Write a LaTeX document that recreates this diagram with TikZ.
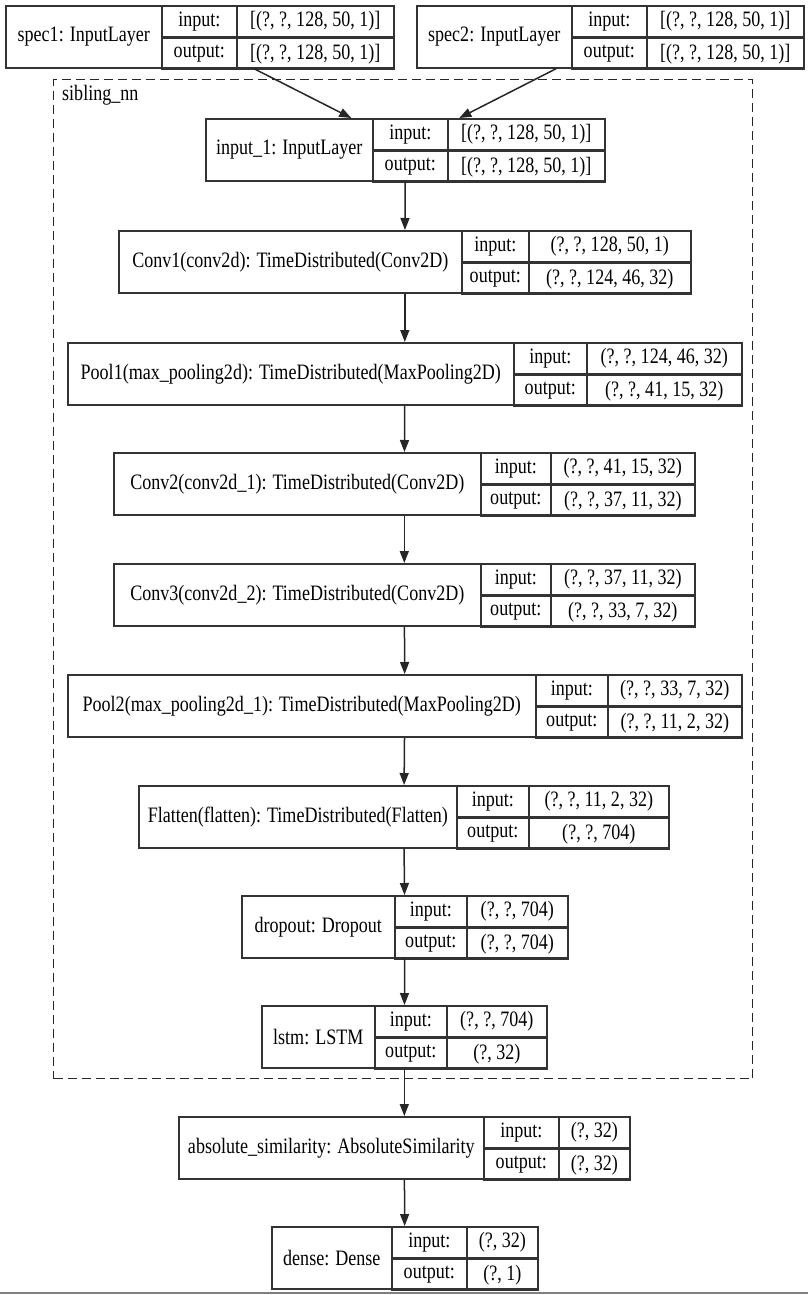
\documentclass[tikz,border=0pt]{standalone}
\usepackage{fontspec}
\setmainfont{Liberation Serif}
\newfontfamily\recfont[FakeStretch=0.82]{Liberation Serif}
\usetikzlibrary{arrows.meta, positioning}

% one Keras record: name, left x, top y, 1st divider, 2nd divider, right x, label, input, output
\newcommand{\layer}[9]{%
  \node[rec, minimum width={#6-#2}, anchor=north west] (#1) at (#2,#3) {};
  \node[cell, minimum width={#4-#2}, minimum height=62, anchor=north west] (#1-lbl) at (#2,#3) {#7};
  \node[cell, minimum width={#5-#4}, anchor=north west] (#1-ik) at (#4,#3) {input:};
  \node[cell, minimum width={#6-#5}, anchor=north west] (#1-iv) at (#5,#3) {#8};
  \node[cell, minimum width={#5-#4}, anchor=north west] (#1-ok) at (#1-ik.south west) {output:};
  \node[cell, minimum width={#6-#5}, anchor=north west] (#1-ov) at (#1-iv.south west) {#9};
}

\begin{document}
\begin{tikzpicture}[
  x=1pt, y=-1pt,
  rec/.style={rectangle, draw=black!80, line width=1.6pt, minimum height=62, inner sep=0pt},
  cell/.style={rectangle, draw=black!80, line width=1.6pt, minimum height=31, inner sep=0pt,
               font=\recfont\fontsize{22}{22}\selectfont, text=black},
  cluster/.style={rectangle, draw=black!85, line width=1.3pt, dash pattern=on 9pt off 5pt, inner sep=0pt},
  arr/.style={-{Triangle[length=12pt, width=9pt]}, line width=1.5pt, draw=black!85},
  every node/.style={font=\recfont\fontsize{22}{22}\selectfont}
]
\useasboundingbox (0,0) rectangle (808,1295);

% sibling_nn cluster
\node[cluster, minimum width=699, minimum height=999, anchor=north west] (sib) at (53,79) {};
\node[anchor=base west, inner sep=0pt] (sibtxt) at (62,101) {sibling\_nn};

\layer{spec1}{5}{5}{161}{236}{393}{spec1: InputLayer}{[(?, ?, 128, 50, 1)]}{[(?, ?, 128, 50, 1)]}
\layer{spec2}{416}{5}{571}{646}{803}{spec2: InputLayer}{[(?, ?, 128, 50, 1)]}{[(?, ?, 128, 50, 1)]}
\layer{input1}{205}{118}{372}{447}{604}{input\_1: InputLayer}{[(?, ?, 128, 50, 1)]}{[(?, ?, 128, 50, 1)]}
\layer{conv1}{118}{230}{461}{528}{690}{Conv1(conv2d): TimeDistributed(Conv2D)}{(?, ?, 128, 50, 1)}{(?, ?, 124, 46, 32)}
\layer{pool1}{67}{342}{513}{586}{741}{Pool1(max\_pooling2d): TimeDistributed(MaxPooling2D)}{(?, ?, 124, 46, 32)}{(?, ?, 41, 15, 32)}
\layer{conv2}{113}{452}{480}{550}{694}{Conv2(conv2d\_1): TimeDistributed(Conv2D)}{(?, ?, 41, 15, 32)}{(?, ?, 37, 11, 32)}
\layer{conv3}{113}{563}{480}{550}{694}{Conv3(conv2d\_2): TimeDistributed(Conv2D)}{(?, ?, 37, 11, 32)}{(?, ?, 33, 7, 32)}
\layer{pool2}{67}{674}{535}{607}{741}{Pool2(max\_pooling2d\_1): TimeDistributed(MaxPooling2D)}{(?, ?, 33, 7, 32)}{(?, ?, 11, 2, 32)}
\layer{flatten}{138}{785}{456}{528}{668}{Flatten(flatten): TimeDistributed(Flatten)}{(?, ?, 11, 2, 32)}{(?, ?, 704)}
\layer{dropout}{241}{895}{394}{466}{567}{dropout: Dropout}{(?, ?, 704)}{(?, ?, 704)}
\layer{lstm}{261}{1005}{374}{446}{546}{lstm: LSTM}{(?, ?, 704)}{(?, 32)}
\layer{abssim}{178}{1116}{483}{558}{629}{absolute\_similarity: AbsoluteSimilarity}{(?, 32)}{(?, 32)}
\layer{dense}{271}{1226}{391}{466}{537}{dense: Dense}{(?, 32)}{(?, 1)}

\draw[arr] ([xshift=54]spec1.south) -- ([xshift=-54]input1.north);
\draw[arr] ([xshift=-54]spec2.south) -- ([xshift=54]input1.north);
\draw[arr] (input1) -- (conv1);
\draw[arr] (conv1) -- (pool1);
\draw[arr] (pool1) -- (conv2);
\draw[arr] (conv2) -- (conv3);
\draw[arr] (conv3) -- (pool2);
\draw[arr] (pool2) -- (flatten);
\draw[arr] (flatten) -- (dropout);
\draw[arr] (dropout) -- (lstm);
\draw[arr] (lstm) -- (abssim);
\draw[arr] (abssim) -- (dense);

% grey edge at the bottom
\draw[black!50, line width=1.5pt] (0,1293) -- (808,1293);
\end{tikzpicture}
\end{document}
